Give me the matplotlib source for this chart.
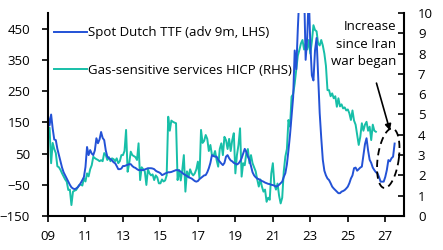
import numpy as np
import pandas as pd
import matplotlib
matplotlib.use("Agg")
import matplotlib.pyplot as plt

plt.rcParams['font.family'] = ['Open Sans', 'DejaVu Sans']

# Spot Dutch TTF (advanced 9 months), LHS, monthly from Jan 2009
ttf = [
    172, 140, 175, 130, 95, 93, 65, 45, 25, 5, -10, -20,          # 2009
    -30, -40, -50, -58, -62, -64, -62, -58, -52, -44, -35, -25,   # 2010
    7, 71, 45, 61, 50, 45, 60, 99, 83, 95, 119, 100,              # 2011
    93, 60, 40, 35, 32, 28, 22, 19, 10, 0, 0, 2,                  # 2012
    10, 10, 12, 14, 16, 16, 10, 6, 4, 0, -3, -3,                  # 2013
    -3, -3, -1, 1, 3, 3, 3, 2, 0, -5, -8, -10,                    # 2014
    -13, -19, -17, -14, -12, -10, -10, -9, -7, -5, -3, -3,        # 2015
    -5, -8, -12, -16, -19, -22, -25, -28, -30, -34, -38, -40,     # 2016
    -38, -32, -28, -24, -20, -19, -10, 3, 20, 45, 42, 40,         # 2017
    40, 30, 24, 18, 13, 20, 40, 45, 35, 28, 25, 20,               # 2018
    18, 15, 18, 25, 35, 50, 65, 55, 40, 30, 10, -10,              # 2019
    -20, -26, -30, -32, -35, -38, -40, -43, -45, -47, -48, -50,   # 2020
    -51, -53, -56, -54, -50, -45, -40, -25, -13, 15, 60, 110,     # 2021
    170, 230, 380, 320, 450, 560, 600, 520, 580, 350, 420, 560,   # 2022
    400, 300, 284, 380, 420, 300, 180, 100, 30, -5, -20, -30,     # 2023
    -35, -45, -56, -62, -67, -72, -77, -77, -72, -70, -67, -62,   # 2024
    -56, -45, -30, -20, 3, 5, -5, 0, 5, 8, 45, 80,                # 2025
    99, 60, 30, 20, 5, -3, -10, -13, -25, -40, -40, -40,          # 2026
    -25, -3, 29, 25, 35, 40, 82,                                  # 2027
]

# Gas-sensitive services HICP, RHS, monthly from Jan 2009
hicp = [
    3.9, 4.35, 2.6, 3.6, 3.3, 3.1, 2.45, 2.4, 2.27, 2.1, 1.95, 1.8,
    1.69, 1.28, 1.3, 0.54, 1.2, 1.25, 1.28, 1.4, 1.53, 1.55, 1.5, 1.86,
    1.7, 2.1, 1.95, 2.3, 2.5, 2.92, 2.85, 2.8, 2.76, 2.7, 2.75, 2.7,
    3.1, 3.0, 2.76, 2.9, 2.7, 2.84, 2.8, 2.7, 2.84, 2.6, 2.7, 3.0,
    3.0, 3.2, 4.24, 2.18, 2.6, 3.17, 3.0, 2.95, 2.9, 2.76, 3.58, 1.77,
    2.4, 2.3, 2.2, 1.53, 2.3, 2.1, 2.0, 2.05, 1.77, 2.0, 1.9, 1.61,
    1.61, 1.8, 1.7, 1.75, 2.0, 4.89, 4.2, 4.7, 4.64, 4.6, 4.57, 1.77,
    2.27, 1.75, 2.27, 3.0, 1.2, 2.2, 1.9, 2.3, 2.1, 2.0, 2.1, 2.3,
    2.68, 1.86, 4.24, 3.6, 3.7, 3.99, 3.8, 3.2, 3.5, 3.0, 2.95, 3.2,
    2.76, 2.43, 3.3, 3.58, 3.0, 3.9, 3.74, 3.3, 3.8, 3.2, 3.74, 4.08,
    2.1, 3.0, 3.5, 4.32, 1.94, 2.6, 2.5, 3.1, 3.3, 2.6, 3.0, 2.6,
    2.4, 2.2, 1.8, 1.45, 1.8, 1.45, 1.2, 1.3, 0.7, 0.9, 0.8, 2.1,
    2.6, 1.55, 1.3, 1.6, 1.0, 0.62, 0.9, 2.2, 2.92, 3.3, 4.73, 4.4,
    5.88, 6.0, 6.53, 7.2, 7.9, 8.18, 8.5, 8.67, 8.2, 8.5, 8.2, 8.67,
    8.0, 8.6, 9.4, 9.16, 9.1, 8.5, 8.4, 8.67, 8.4, 8.0, 7.4, 6.2,
    6.2, 5.9, 6.04, 5.8, 5.9, 5.38, 5.8, 5.4, 5.5, 5.3, 5.35, 5.2,
    5.25, 5.06, 4.73, 5.2, 4.7, 4.5, 4.0, 3.5, 3.9, 4.57, 4.2, 4.5,
    4.64, 4.2, 4.4, 3.74, 4.5, 4.2, 4.15,
]

x_ticks = list(range(2009, 2028, 2))
x_labels = [f"{y % 100:02d}" for y in x_ticks]
left_ticks = [-150, -50, 50, 150, 250, 350, 450]
right_ticks = list(range(0, 11))

ttf_dates = 2009 + np.arange(len(ttf)) / 12
hicp_dates = 2009 + np.arange(len(hicp)) / 12

blue = "#2352d6"
teal = "#17bfa8"

fig = plt.figure(figsize=(4.43, 2.5), dpi=100)
ax1 = fig.add_axes([48 / 443, 34 / 250, 356 / 443, 203 / 250])
ax2 = ax1.twinx()

ax2.plot(hicp_dates, hicp, color=teal, lw=1.4)
l1, = ax1.plot(ttf_dates, ttf, color=blue, lw=1.4,
               label="Spot Dutch TTF (adv 9m, LHS)")
l2, = ax1.plot([], [], color=teal, lw=1.4,
               label="Gas-sensitive services HICP (RHS)")

# blue on top of teal
ax1.set_zorder(ax2.get_zorder() + 1)
ax1.patch.set_visible(False)

ax1.set_xlim(2009, 2028)
ax1.set_ylim(-150, 500)
ax2.set_ylim(0, 10)
ax1.set_xticks(x_ticks)
ax1.set_xticklabels(x_labels)
ax1.set_yticks(left_ticks)
ax2.set_yticks(right_ticks)

for ax in (ax1, ax2):
    ax.spines['top'].set_visible(False)
    for s in ax.spines.values():
        s.set_linewidth(1.5)
ax1.spines['right'].set_visible(False)
ax2.spines['left'].set_visible(False)
ax2.spines['bottom'].set_visible(False)

ax1.tick_params(axis='x', labelsize=9.5, width=1.2, length=4, direction='out', pad=6)
ax1.tick_params(axis='y', labelsize=9.5, width=1.2, length=4, direction='out', pad=9)
ax2.tick_params(axis='y', labelsize=9.5, width=1.2, length=4, direction='in', pad=10)

ax1.legend(handles=[l1, l2], loc='upper left', frameon=False,
           bbox_to_anchor=(6 / 356, 0.935), borderaxespad=0, borderpad=0,
           fontsize=9.5, handlelength=2.5, handletextpad=0.1,
           labelspacing=1.85)

ax1.text(0.9775, 0.965, "Increase\nsince Iran\nwar began", transform=ax1.transAxes,
         ha='right', va='top', multialignment='right', fontsize=9.5,
         linespacing=1.45)
ax1.annotate("", xy=(2027.29, 115), xytext=(2026.49, 284),
             arrowprops=dict(arrowstyle='-|>', color='black', lw=1.2,
                             mutation_scale=9))

# dashed ellipse, sized in pixels then converted to data units
t = np.linspace(0, 2 * np.pi, 100)
a, b, th = 10.5, 30, np.deg2rad(-8)
px = a * np.cos(t) * np.cos(th) - b * np.sin(t) * np.sin(th)
py = a * np.cos(t) * np.sin(th) + b * np.sin(t) * np.cos(th)
ax1.plot(2027.16 + px / 18.7, 35 + py * 650 / 203, color='black', lw=1.3,
         ls=(0, (4, 2.5)))

fig.savefig("out.png", dpi=100)
